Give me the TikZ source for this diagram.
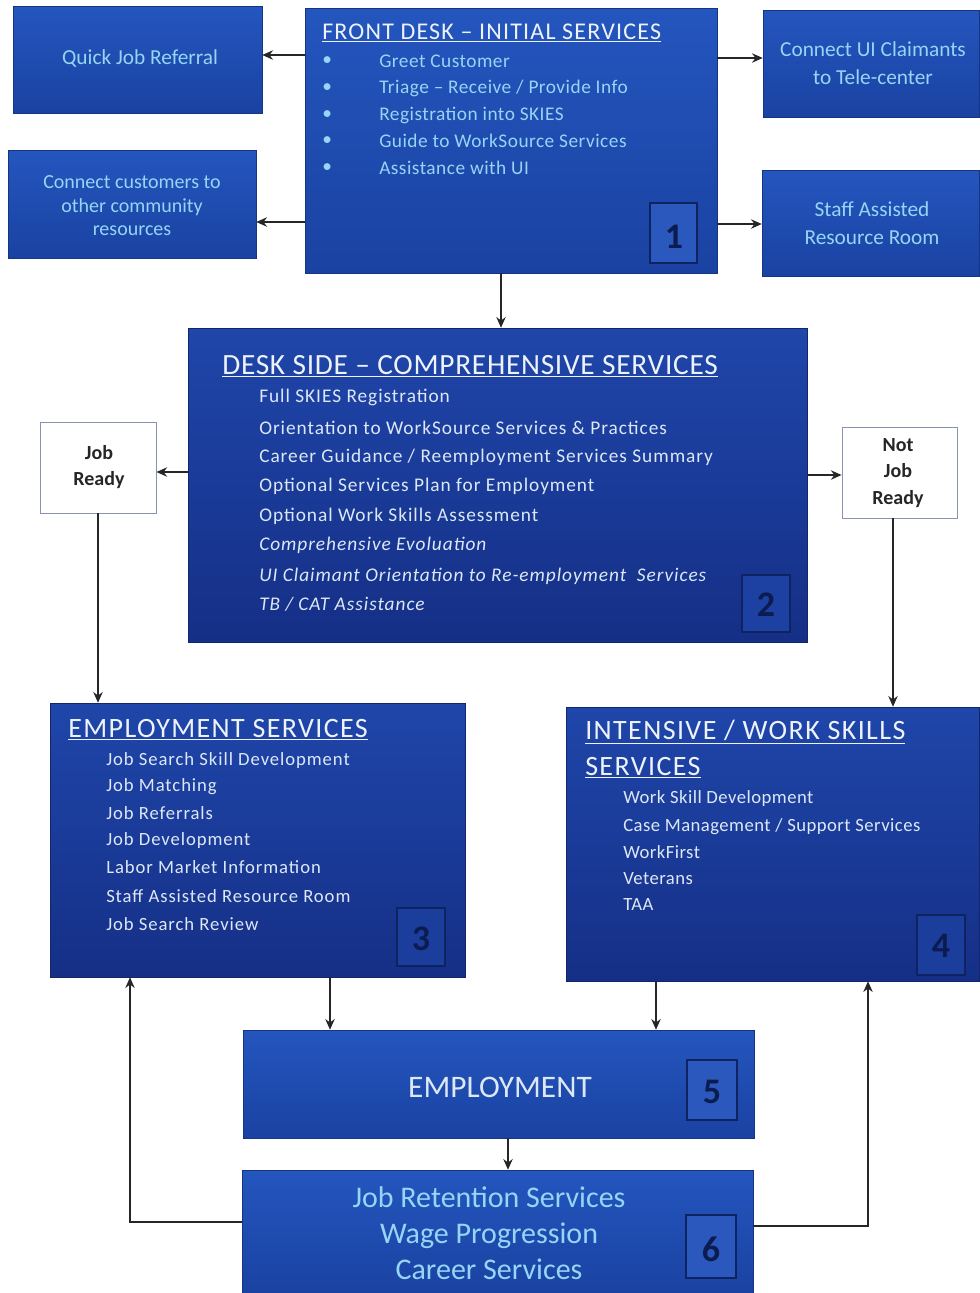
\documentclass[tikz,border=0pt]{standalone}
\usepackage{fontspec}
\setmainfont{Carlito}
\newfontfamily\spfive[LetterSpace=5]{Carlito}
\newfontfamily\sptwo[LetterSpace=2.5]{Carlito}
\usetikzlibrary{fit,arrows.meta}
\definecolor{bxtop}{HTML}{2456BE}
\definecolor{bxbot}{HTML}{1A42A2}
\definecolor{dktop}{HTML}{1F46AA}
\definecolor{dkbot}{HTML}{152F86}
\definecolor{cyantxt}{HTML}{95D5F5}
\definecolor{listtxt}{HTML}{DCE8F6}
\definecolor{titletxt}{HTML}{EEF3FB}
\definecolor{numfill}{HTML}{2A58BC}
\definecolor{numdraw}{HTML}{0E2360}
\definecolor{numtxt}{HTML}{0C1C50}
\definecolor{readydraw}{HTML}{8893B0}
\begin{document}
\begin{tikzpicture}[x=0.75pt,y=-0.75pt,
  bluebox/.style={inner sep=0pt, top color=bxtop, bottom color=bxbot, draw=bxbot!80!black, line width=0.4pt},
  darkbox/.style={inner sep=0pt, top color=dktop, bottom color=dkbot, draw=dkbot!80!black, line width=0.4pt},
  smalltxt/.style={text=cyantxt, font=\fontsize{16}{21}\selectfont, align=center},
  fdtxt/.style={text=cyantxt, font=\sptwo\fontsize{14.5}{17}\selectfont, anchor=west, inner sep=0pt},
  listitem/.style={text=listtxt, font=\spfive\fontsize{14.5}{17}\selectfont, anchor=west, inner sep=0pt},
  esitem/.style={text=listtxt, font=\spfive\fontsize{14}{17}\selectfont, anchor=west, inner sep=0pt},
  iwitem/.style={text=listtxt, font=\sptwo\fontsize{14}{17}\selectfont, anchor=west, inner sep=0pt},
  title/.style={text=titletxt, anchor=west, inner sep=0pt},
  numbox/.style={inner sep=0pt, fill=numfill, draw=numdraw, line width=0.8pt},
  numlab/.style={inner sep=0pt, text=numtxt, font=\fontsize{27}{27}\selectfont\bfseries},
  ready/.style={inner sep=0pt, fill=white, draw=readydraw, line width=0.6pt},
  readytxt/.style={inner sep=0pt, align=center, font=\fontsize{15}{20}\selectfont\bfseries, text=black!85},
  arr/.style={draw=black!85, line width=1.4pt, -{Stealth[length=8pt,width=7pt]}}
]
\useasboundingbox (0,0) rectangle (979,1293);
\fill[white] (0,0) rectangle (979,1293);

% ---------- top row ----------
\node[bluebox, fit={(13,6)(262,113)}] (qjr) {};
\node[smalltxt] (qjrt) at (140,59) {Quick Job Referral};

\node[bluebox, fit={(8,150)(256,258)}] (ccr) {};
\node[smalltxt, font=\fontsize{15}{17.6}\selectfont] (ccrt) at (132,206) {Connect customers to\\other community\\resources};

\node[bluebox, fit={(305,8)(717,273)}] (fd) {};
\node[title, font=\spfive\fontsize{18}{21}\selectfont] (fdtitle) at (322,33) {\underline{FRONT DESK – INITIAL SERVICES}};
\node[fdtxt] (b1) at (322,61) {•};
\node[fdtxt] (b2) at (322,88) {•};
\node[fdtxt] (b3) at (322,115) {•};
\node[fdtxt] (b4) at (322,141) {•};
\node[fdtxt] (b5) at (322,168) {•};
\node[fdtxt] (f1) at (379,61) {Greet Customer};
\node[fdtxt] (f2) at (379,88) {Triage – Receive / Provide Info};
\node[fdtxt] (f3) at (379,115) {Registration into SKIES};
\node[fdtxt] (f4) at (379,141) {Guide to WorkSource Services};
\node[fdtxt] (f5) at (379,168) {Assistance with UI};
\node[numbox, fit={(650,203)(697,263)}] (n1) {};
\node[numlab] (n1t) at (674,237) {1};

\node[bluebox, fit={(763,10)(979,117)}] (cui) {};
\node[smalltxt] (cuit) at (873,63) {Connect UI Claimants\\to Tele-center};

\node[bluebox, fit={(762,170)(979,276)}] (sar) {};
\node[smalltxt] (sart) at (872,223) {Staff Assisted\\Resource Room};

% ---------- desk side ----------
\node[darkbox, fit={(188,328)(807,642)}] (ds) {};
\node[title, font=\sptwo\fontsize{22}{26}\selectfont] (dstitle) at (222,366) {\underline{DESK SIDE – COMPREHENSIVE SERVICES}};
\node[listitem] (d1) at (259,397) {Full SKIES Registration};
\node[listitem] (d2) at (259,428) {Orientation to WorkSource Services \& Practices};
\node[listitem] (d3) at (259,457) {Career Guidance / Reemployment Services Summary};
\node[listitem] (d4) at (259,486) {Optional Services Plan for Employment};
\node[listitem] (d5) at (259,516) {Optional Work Skills Assessment};
\node[listitem] (d6) at (259,545) {\itshape Comprehensive Evoluation};
\node[listitem] (d7) at (259,576) {\itshape UI Claimant Orientation to Re-employment\ \ Services};
\node[listitem] (d8) at (259,604) {\itshape TB / CAT Assistance};
\node[numbox, fill=dktop!80!dkbot, fit={(742,575)(790,632)}] (n2) {};
\node[numlab] (n2t) at (766,605) {2};

\node[ready, fit={(40,422)(156,513)}] (jr) {};
\node[readytxt] (jrt) at (99,467) {Job\\Ready};
\node[ready, fit={(842,427)(957,518)}] (njr) {};
\node[readytxt] (njrt) at (898,473) {Not\\Job\\Ready};

% ---------- employment services ----------
\node[darkbox, fit={(50,703)(465,977)}] (es) {};
\node[title, font=\spfive\fontsize{21}{24}\selectfont] (estitle) at (68,730) {\underline{EMPLOYMENT SERVICES}};
\node[esitem] (e1) at (106,761) {Job Search Skill Development};
\node[esitem] (e2) at (106,787) {Job Matching};
\node[esitem] (e3) at (106,813) {Job Referrals};
\node[esitem] (e4) at (106,841) {Job Development};
\node[esitem] (e5) at (106,867) {Labor Market Information};
\node[esitem] (e6) at (106,896) {Staff Assisted Resource Room};
\node[esitem] (e7) at (106,924) {Job Search Review};
\node[numbox, fill=dktop!60!dkbot, fit={(397,908)(445,966)}] (n3) {};
\node[numlab] (n3t) at (421,939) {3};

% ---------- intensive ----------
\node[darkbox, fit={(566,707)(979,981)}] (iw) {};
\node[title, font=\spfive\fontsize{21}{24}\selectfont] (iwt1) at (585,732) {\underline{INTENSIVE / WORK SKILLS}};
\node[title, font=\spfive\fontsize{21}{24}\selectfont] (iwt2) at (585,768) {\underline{SERVICES}};
\node[iwitem] (i1) at (623,799) {Work Skill Development};
\node[iwitem] (i2) at (623,827) {Case Management / Support Services};
\node[iwitem] (i3) at (623,852) {WorkFirst};
\node[iwitem] (i4) at (623,879) {Veterans};
\node[iwitem] (i5) at (623,904) {TAA};
\node[numbox, fill=dktop!60!dkbot, fit={(917,915)(965,975)}] (n4) {};
\node[numlab] (n4t) at (941,946) {4};

% ---------- employment ----------
\node[bluebox, fit={(243,1030)(754,1138)}] (emp) {};
\node[text=listtxt, font=\fontsize{23.5}{26}\selectfont] (empt) at (500,1087) {EMPLOYMENT};
\node[numbox, fit={(687,1060)(737,1120)}] (n5) {};
\node[numlab] (n5t) at (712,1092) {5};

\node[bluebox, fit={(242,1170)(753,1293)}] (jrs) {};
\node[smalltxt, font=\fontsize{22.5}{27}\selectfont] (jrst) at (489,1233) {Job Retention Services\\Wage Progression\\Career Services};
\node[numbox, fit={(686,1215)(736,1278)}] (n6) {};
\node[numlab] (n6t) at (711,1249) {6};

% ---------- connectors ----------
\draw[arr] (fd.west |- 0,55) -- (qjr.east |- 0,55);
\draw[arr] (fd.west |- 0,222) -- (ccr.east |- 0,222);
\draw[arr] (fd.east |- 0,58) -- (cui.west |- 0,58);
\draw[arr] (fd.east |- 0,224) -- (sar.west |- 0,224);
\draw[arr] (fd.south -| 501,0) -- (ds.north -| 501,0);
\draw[arr] (ds.west |- 0,472) -- (jr.east |- 0,472);
\draw[arr] (ds.east |- 0,475) -- (njr.west |- 0,475);
\draw[arr] (jr.south -| 98,0) -- (es.north -| 98,0);
\draw[arr] (njr.south -| 893,0) -- (iw.north -| 893,0);
\draw[arr] (es.south -| 330,0) -- (emp.north -| 330,0);
\draw[arr] (iw.south -| 656,0) -- (emp.north -| 656,0);
\draw[arr] (emp.south -| 508,0) -- (jrs.north -| 508,0);
\coordinate (lc) at (130,1222);
\coordinate (rc) at (868,1226);
\draw[arr] (jrs.west |- lc) -- (lc) -- (es.south -| lc);
\draw[arr] (jrs.east |- rc) -- (rc) -- (iw.south -| rc);
\end{tikzpicture}
\end{document}
